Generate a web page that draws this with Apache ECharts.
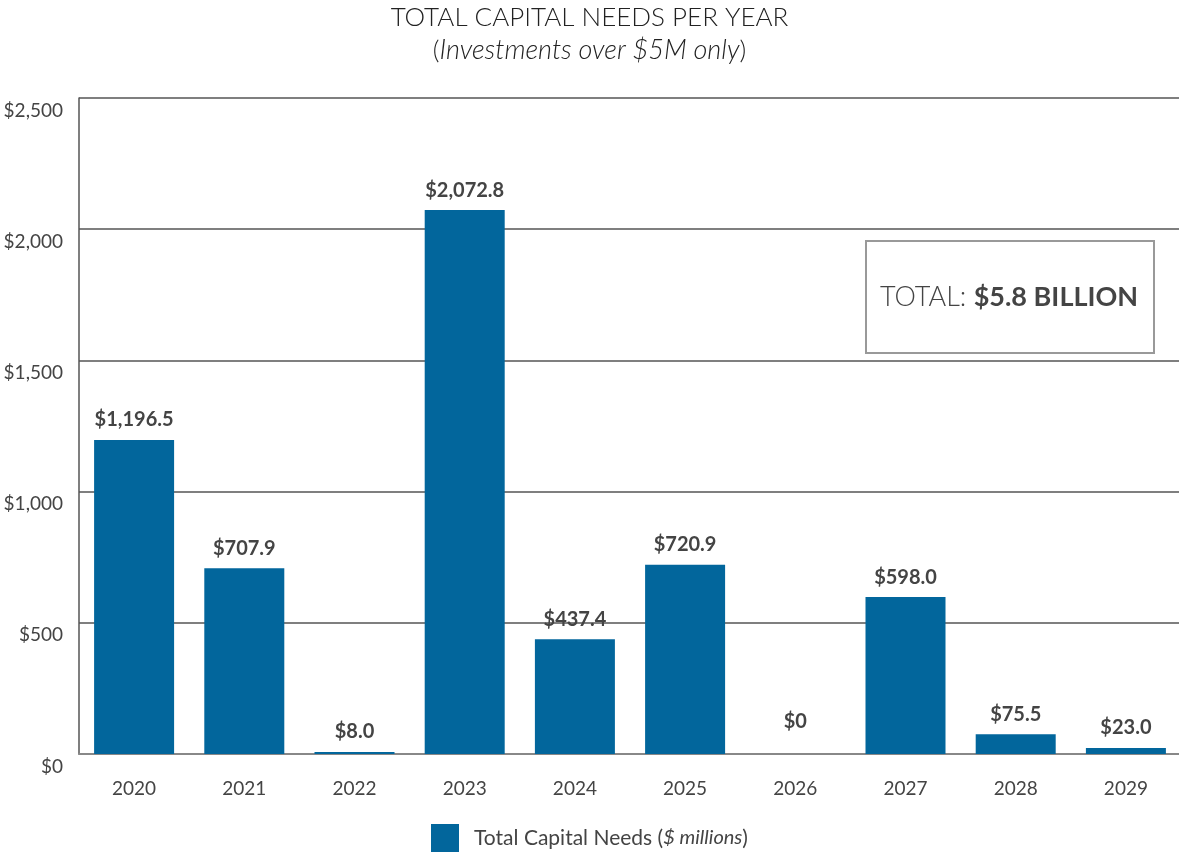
<!DOCTYPE html>
<html>
<head>
<meta charset="utf-8">
<script src="https://cdn.jsdelivr.net/npm/echarts@6/dist/echarts.min.js"></script>
<style>html,body{margin:0;padding:0;background:#fff}#c{width:1179px;height:852px}</style>
</head>
<body>
<div id="c"></div>
<script>
const categories = ['2020','2021','2022','2023','2024','2025','2026','2027','2028','2029'];
const capitalNeeds = [1196.5, 707.9, 8.0, 2072.8, 437.4, 720.9, 0, 598.0, 75.5, 23.0];
const yTicks = [0, 500, 1000, 1500, 2000, 2500];

const FONT = 'Lato';
const TXT = '#444';

function money(v) {
  if (v === 0) return '$0';
  return '$' + v.toLocaleString('en-US', {minimumFractionDigits: 1, maximumFractionDigits: 1});
}
function tickMoney(v) {
  return '$' + v.toLocaleString('en-US', {maximumFractionDigits: 0});
}

const chart = echarts.init(document.getElementById('c'), null, {renderer: 'canvas'});
chart.setOption({
  animation: false,
  textStyle: {fontFamily: FONT},
  title: {
    text: 'TOTAL CAPITAL NEEDS PER YEAR',
    subtext: '{n|(}{i|Investments over $5M only}{n|)}',
    left: 'center',
    top: 0,
    itemGap: 6,
    textStyle: {fontFamily: FONT, fontSize: 26, fontWeight: 300, color: '#222'},
    subtextStyle: {
      fontFamily: FONT, fontSize: 26, color: '#222',
      rich: {
        n: {fontFamily: FONT, fontSize: 26, fontWeight: 300, color: '#222'},
        i: {fontFamily: FONT, fontSize: 27, fontWeight: 300, fontStyle: 'italic', color: '#222'}
      }
    }
  },
  legend: {
    bottom: -5,
    left: 'center',
    itemWidth: 28,
    itemHeight: 28,
    itemGap: 10,
    icon: 'rect',
    formatter: function () { return '{a|Total Capital Needs (}{b|$ millions}{a|)}'; },
    textStyle: {
      fontFamily: FONT, fontSize: 21, color: TXT, padding: [0, 0, 0, 10],
      rich: {
        a: {fontFamily: FONT, fontSize: 21, color: TXT},
        b: {fontFamily: FONT, fontSize: 20, fontStyle: 'italic', color: TXT}
      }
    }
  },
  grid: {left: 79, right: -2, top: 98, bottom: 98, containLabel: false, outerBoundsMode: 'none'},
  xAxis: {
    type: 'category',
    data: categories,
    axisLine: {show: true, lineStyle: {color: '#888', width: 2}},
    axisTick: {show: false},
    axisLabel: {fontFamily: FONT, fontSize: 19, color: TXT, margin: 25}
  },
  yAxis: {
    type: 'value',
    min: 0,
    max: 2500,
    interval: 500,
    axisLine: {show: true, lineStyle: {color: '#555', width: 1.5}},
    axisTick: {show: false},
    splitLine: {show: true, lineStyle: {color: '#555', width: 1.5}},
    axisLabel: {
      fontFamily: FONT, fontSize: 19, color: TXT, margin: 16,
      verticalAlign: 'top', padding: [3, 0, 0, 0],
      formatter: function (v) { return yTicks.indexOf(v) >= 0 ? tickMoney(v) : ''; }
    }
  },
  series: [{
    name: 'Total Capital Needs',
    type: 'bar',
    barWidth: 80,
    itemStyle: {color: '#02669c'},
    data: capitalNeeds.map(function (v) {
      return v === 0 ? {value: v, label: {distance: 22}} : v;
    }),
    label: {
      show: true,
      position: 'top',
      distance: 10,
      fontFamily: FONT,
      fontSize: 20,
      fontWeight: 'bold',
      color: TXT,
      formatter: function (p) { return money(p.value); }
    }
  }],
  graphic: [{
    type: 'rect',
    left: 865,
    top: 240,
    shape: {width: 288, height: 112},
    style: {fill: '#fff', stroke: '#999', lineWidth: 2},
    z: 10
  }, {
    type: 'text',
    x: 1009,
    y: 297,
    z: 11,
    style: {
      text: '{r|TOTAL: }{b|$5.8 BILLION}',
      align: 'center',
      verticalAlign: 'middle',
      rich: {
        r: {fontFamily: FONT, fontSize: 27, fontWeight: 300, fill: TXT},
        b: {fontFamily: FONT, fontSize: 27, fontWeight: 'bold', fill: TXT}
      }
    }
  }]
});
</script>
</body>
</html>
